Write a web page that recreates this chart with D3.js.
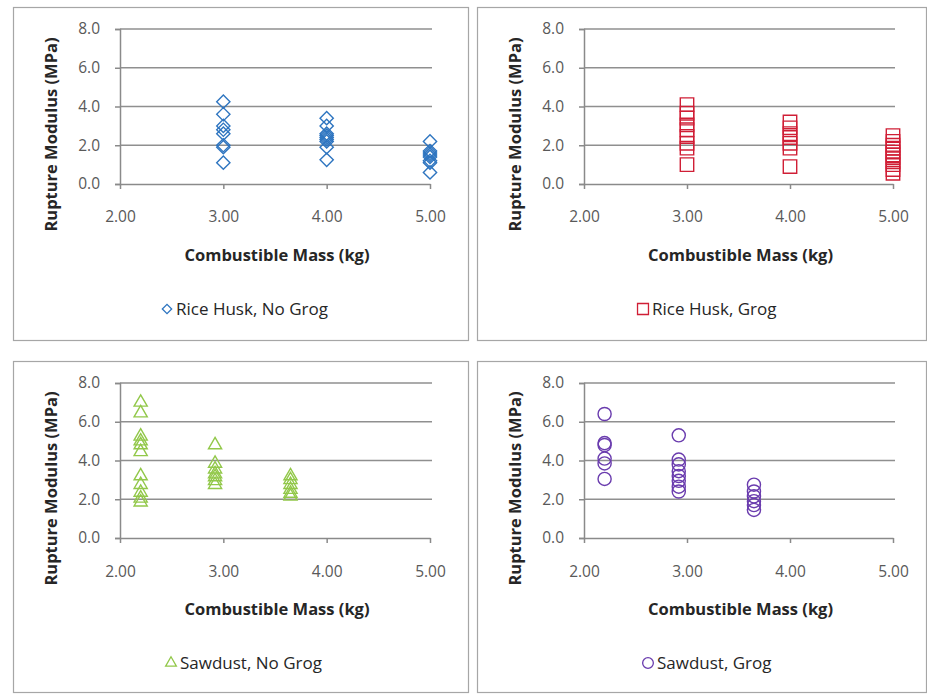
<!DOCTYPE html>
<html>
<head>
<meta charset="utf-8">
<script src="https://cdn.jsdelivr.net/npm/d3@7/dist/d3.min.js"></script>
<style>
  html, body { margin: 0; padding: 0; background: #ffffff; }
  svg { display: block; }
</style>
</head>
<body>
<svg id="chart" width="927" height="694"></svg>
<script>
// ---------------- DATA ----------------
const xTicks = [2.0, 3.0, 4.0, 5.0];
const yTicks = [0.0, 2.0, 4.0, 6.0, 8.0];

const riceHuskMass = [3.00, 4.00, 5.00];
const sawdustMass = [2.20, 2.92, 3.65];

const riceHuskNoGrog = [
  [4.25, 3.6, 3.0, 2.8, 2.6, 2.0, 1.9, 1.1],
  [3.4, 3.0, 2.6, 2.5, 2.4, 2.3, 2.2, 1.9, 1.25],
  [2.2, 1.7, 1.6, 1.5, 1.4, 1.2, 1.1, 0.6]
];
const riceHuskGrog = [
  [4.1, 3.65, 3.4, 3.05, 2.8, 2.45, 2.1, 1.85, 1.0],
  [3.2, 2.9, 2.6, 2.4, 2.1, 1.85, 0.9],
  [2.5, 2.2, 2.0, 1.85, 1.65, 1.5, 1.35, 1.15, 1.0, 0.75, 0.55]
];
const sawdustNoGrog = [
  [7.0, 6.45, 5.25, 5.0, 4.8, 4.45, 3.2, 2.75, 2.35, 2.05, 1.85],
  [4.8, 3.85, 3.55, 3.3, 3.15, 2.95, 2.75],
  [3.2, 3.0, 2.75, 2.5, 2.3, 2.15]
];
const sawdustGrog = [
  [6.4, 4.9, 4.8, 4.1, 3.85, 3.05],
  [5.3, 4.05, 3.8, 3.45, 3.2, 2.95, 2.65, 2.4],
  [2.75, 2.4, 2.15, 1.9, 1.7, 1.45]
];

const seriesNames = ["Rice Husk, No Grog", "Rice Husk, Grog", "Sawdust, No Grog", "Sawdust, Grog"];
const seriesColors = ["#2E75C0", "#D01F36", "#92C84A", "#6A3CAE"];
const xTitle = "Combustible Mass (kg)";
const yTitle = "Rupture Modulus (MPa)";

// ---------------- LAYOUT ----------------
const panels = [
  { name: seriesNames[0], color: seriesColors[0], mass: riceHuskMass, values: riceHuskNoGrog, symbol: "diamond",
    box: [13, 7, 455, 333], plot: [120, 29, 310, 155], xLab: 222, xTit: 261, leg: 314, legX: 167 },
  { name: seriesNames[1], color: seriesColors[1], mass: riceHuskMass, values: riceHuskGrog, symbol: "square",
    box: [477, 7, 449, 333], plot: [584, 29, 309, 155], xLab: 222, xTit: 261, leg: 314, legX: 643 },
  { name: seriesNames[2], color: seriesColors[2], mass: sawdustMass, values: sawdustNoGrog, symbol: "triangle",
    box: [13, 361, 455, 331], plot: [120, 383, 310, 155], xLab: 577, xTit: 615, leg: 668, legX: 171 },
  { name: seriesNames[3], color: seriesColors[3], mass: sawdustMass, values: sawdustGrog, symbol: "circle",
    box: [477, 361, 449, 331], plot: [584, 383, 309, 155], xLab: 577, xTit: 615, leg: 668, legX: 648 }
];

const FONT = "'Open Sans', Lato, sans-serif";
const svg = d3.select("#chart");

function symbolPath(kind, big) {
  const map = {
    diamond: [d3.symbolSquare, big ? 88 : 44],
    square: [d3.symbolSquare, big ? 180 : 120],
    triangle: [d3.symbolTriangle, big ? 75 : 50],
    circle: [d3.symbolCircle, big ? 135 : 90]
  };
  const [t, s] = map[kind];
  return d3.symbol().type(t).size(s)();
}

panels.forEach(p => {
  const g = svg.append("g");
  g.append("rect")
    .attr("x", p.box[0] + 0.5).attr("y", p.box[1] + 0.5)
    .attr("width", p.box[2]).attr("height", p.box[3])
    .attr("fill", "#ffffff").attr("stroke", "#a6a6a6").attr("stroke-width", 1.2);

  const [px, py, pw, ph] = p.plot;
  const x = d3.scaleLinear().domain([2, 5]).range([px, px + pw]);
  const y = d3.scaleLinear().domain([0, 8]).range([py + ph, py]);

  g.append("g").selectAll("line").data(yTicks.filter(v => v > 0)).join("line")
    .attr("x1", x(2)).attr("x2", x(5) + 2)
    .attr("y1", d => y(d)).attr("y2", d => y(d))
    .attr("stroke", "#8f8f8f").attr("stroke-width", 1.5);

  const ya = g.append("g").attr("transform", `translate(${x(2)},0)`)
    .call(d3.axisLeft(y).tickValues(yTicks).tickFormat(d3.format(".1f")).tickSize(5).tickPadding(15));
  ya.select(".domain").attr("stroke", "#8a8a8a").attr("stroke-width", 1.5);
  ya.selectAll(".tick line").attr("stroke", "#8a8a8a").attr("stroke-width", 1.5);
  ya.selectAll(".tick text").attr("fill", "#595959").style("font-family", FONT).style("font-size", "15.5px");

  const xa = g.append("g").attr("transform", `translate(0,${y(0)})`)
    .call(d3.axisBottom(x).tickValues(xTicks).tickFormat(d3.format(".2f")).tickSize(5).tickSizeOuter(0).tickPadding(0));
  xa.select(".domain").attr("stroke", "#8a8a8a").attr("stroke-width", 1.5);
  xa.selectAll(".tick line").attr("stroke", "#8a8a8a").attr("stroke-width", 1.5);
  xa.selectAll(".tick text").attr("fill", "#595959").style("font-family", FONT).style("font-size", "15.5px")
    .attr("dy", null).attr("y", p.xLab - y(0));

  g.append("text").attr("x", (x(2) + x(5)) / 2 + 2).attr("y", p.xTit)
    .attr("text-anchor", "middle").attr("fill", "#262626")
    .style("font-family", FONT).style("font-weight", "bold").style("font-size", "16.5px")
    .text(xTitle);
  g.append("text")
    .attr("transform", `translate(${px - 63},${py + ph / 2 + 28}) rotate(-90)`)
    .attr("text-anchor", "middle").attr("fill", "#262626")
    .style("font-family", FONT).style("font-weight", "bold").style("font-size", "16.5px")
    .text(yTitle);

  const pts = [];
  p.mass.forEach((m, i) => p.values[i].forEach(v => pts.push({ m, v })));
  g.append("g").selectAll("path").data(pts).join("path")
    .attr("d", symbolPath(p.symbol, true))
    .attr("transform", d => `translate(${x(d.m)},${y(d.v)})` + (p.symbol === "diamond" ? " rotate(45)" : ""))
    .attr("fill", "none").attr("stroke", p.color).attr("stroke-width", 1.4);

  const lg = g.append("g").attr("transform", `translate(${p.legX},${p.leg - 5})`);
  lg.append("path").attr("d", symbolPath(p.symbol, false))
    .attr("transform", p.symbol === "diamond" ? "rotate(45)" : null)
    .attr("fill", "none").attr("stroke", p.color).attr("stroke-width", 1.3);
  lg.append("text").attr("x", 9).attr("y", 5.5)
    .attr("fill", "#262626").style("font-family", FONT).style("font-size", "17px")
    .text(p.name);
});
</script>
</body>
</html>
